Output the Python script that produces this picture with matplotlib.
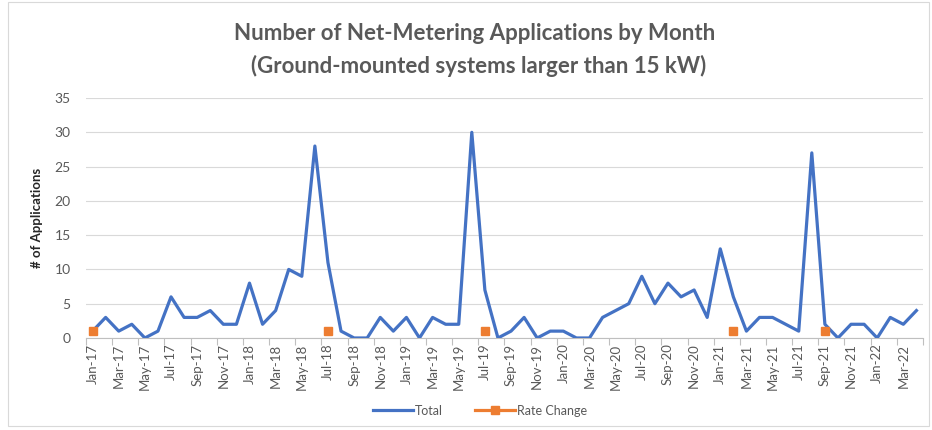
import numpy as np
import matplotlib
matplotlib.use("Agg")
import matplotlib.pyplot as plt
from matplotlib.lines import Line2D
from matplotlib.patches import Rectangle

plt.rcParams['font.family'] = ['Lato', 'DejaVu Sans']

# monthly data, Jan-17 .. Apr-22
months = ['Jan', 'Feb', 'Mar', 'Apr', 'May', 'Jun',
          'Jul', 'Aug', 'Sep', 'Oct', 'Nov', 'Dec']
month_labels = [f"{m}-{y}" for y in range(17, 23) for m in months][:64]

total = [1, 3, 1, 2, 0, 1, 6, 3, 3, 4, 2, 2,
         8, 2, 4, 10, 9, 28, 11, 1, 0, 0, 3, 1,
         3, 0, 3, 2, 2, 30, 7, 0, 1, 3, 0, 1,
         1, 0, 0, 3, 4, 5, 9, 5, 8, 6, 7, 3,
         13, 6, 1, 3, 3, 2, 1, 27, 2, 0, 2, 2,
         0, 3, 2, 4]

rate_change_months = ['Jan-17', 'Jul-18', 'Jul-19', 'Feb-21', 'Sep-21']
rate_change_value = 1

blue = '#4472C4'
orange = '#ED7D31'
grey = '#595959'

x = np.arange(len(total))
rc_x = [month_labels.index(m) for m in rate_change_months]
rc_y = [rate_change_value] * len(rc_x)

fig = plt.figure(figsize=(9.32, 4.30), dpi=100)
ax = fig.add_axes([0.0923, 0.214, 0.898, 0.558])

ax.plot(x, total, color=blue, lw=2.3, solid_joinstyle='round', zorder=3)
ax.plot(rc_x, rc_y, ls='none', marker='s', ms=6, color=orange, zorder=4)

ax.set_xlim(-0.5, len(total) - 0.5)
ax.set_ylim(0, 35)
ax.set_yticks(range(0, 36, 5))
ax.tick_params(axis='y', length=0, labelsize=10, colors=grey, pad=11)

ax.set_xticks(x[::2])
ax.set_xticklabels(month_labels[::2], rotation=90)
ax.set_xticks(np.arange(-0.5, len(total), 2), minor=True)
ax.tick_params(axis='x', which='major', length=0, labelsize=9.5, colors=grey, pad=4)
ax.tick_params(axis='x', which='minor', length=5, color='#BFBFBF', width=0.8)

ax.grid(axis='y', color='#D9D9D9', lw=0.8)
ax.set_axisbelow(True)
for s in ['top', 'right', 'left']:
    ax.spines[s].set_visible(False)
ax.spines['bottom'].set_color('#BFBFBF')
ax.spines['bottom'].set_linewidth(0.8)

ax.set_ylabel('# of Applications', fontsize=9.5, fontweight='bold', color='#262626', labelpad=8)

fig.text(0.509, 0.922, 'Number of Net-Metering Applications by Month',
         ha='center', va='center', fontsize=16, fontweight='bold', color=grey)
fig.text(0.514, 0.846, '(Ground-mounted systems larger than 15 kW)',
         ha='center', va='center', fontsize=16, fontweight='bold', color=grey)

handles = [Line2D([], [], color=blue, lw=2.3),
           Line2D([], [], color=orange, lw=2.3, marker='s', ms=6)]
fig.legend(handles, ['Total', 'Rate Change'], loc='center', bbox_to_anchor=(0.515, 0.045),
           ncol=2, frameon=False, fontsize=9, labelcolor=grey,
           handlelength=3.2, handletextpad=0.2, columnspacing=2.5)

fig.patches.append(Rectangle((0.009, 0.01), 0.988, 0.985, transform=fig.transFigure,
                             fill=False, ec='#D9D9D9', lw=0.8))

fig.savefig('out.png', dpi=100)
